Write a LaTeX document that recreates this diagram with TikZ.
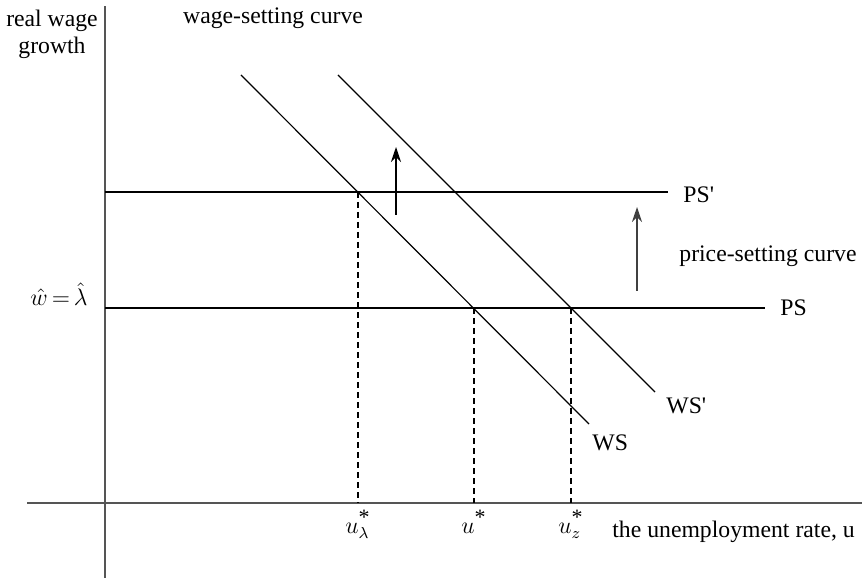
\documentclass[tikz,border=0pt]{standalone}
\usepackage{fontspec}
\setmainfont{Liberation Serif}
\usepackage{tikz}
\usetikzlibrary{arrows.meta,positioning,calc}
\definecolor{ink}{RGB}{0,0,0}
\definecolor{axisgray}{RGB}{85,85,85}
\newcommand{\ustar}{\mbox{\fontsize{11}{11}\selectfont *}}
\tikzset{
  axis/.style={draw=axisgray,line width=1.1bp},
  curve/.style={draw=ink,line width=0.6bp},
  guide/.style={draw=ink,line width=0.6bp,dash pattern=on 3bp off 2bp},
  shiftarr/.style={-{Stealth[length=7.5bp,width=5bp]},line width=0.7bp},
  lbl/.style={font=\fontsize{11.9}{14}\selectfont,inner sep=0pt,text=ink},
}

\begin{document}
\begin{tikzpicture}[x=0.5bp,y=-0.5bp]
  \useasboundingbox (0,0) rectangle (862,578);
  % axes
  \coordinate (o) at (105,503);
  \coordinate (ytop) at (105,6);
  \coordinate (ybot) at (105,578);
  \coordinate (xl) at (27,503);
  \coordinate (xr) at (862,503);
  \draw[axis] (ybot) -- (ytop);
  \draw[axis] (xl) -- (xr);
  % price-setting and wage-setting lines
  \coordinate (ps0) at (105,308);
  \coordinate (ps1) at (765,308);
  \coordinate (psp0) at (105,192);
  \coordinate (psp1) at (668,192);
  \coordinate (ws0) at (241,75);
  \coordinate (ws1) at (589,424);
  \coordinate (wsp0) at (338,75);
  \coordinate (wsp1) at (655,392);
  \draw[curve] (ps0) -- (ps1);
  \draw[curve] (psp0) -- (psp1);
  \draw[curve] (ws0) -- (ws1);
  \draw[curve] (wsp0) -- (wsp1);
  % equilibria, dropped to the axis
  \coordinate (eL) at (358,192);
  \coordinate (eU) at (474,308);
  \coordinate (eZ) at (571,308);
  \draw[guide] (eL) -- (eL |- o);
  \draw[guide] (eU) -- (eU |- o);
  \draw[guide] (eZ) -- (eZ |- o);
  % shifts
  \coordinate (a0) at (396,215);
  \coordinate (a1) at (396,147);
  \coordinate (b0) at (637,291);
  \coordinate (b1) at (637,207);
  \draw[shiftarr] (a0) -- (a1);
  \draw[shiftarr,black!75] (b0) -- (b1);
  % labels
  \node[lbl,align=center,anchor=base] (ylab) at (52,54) {real wage\\growth};
  \node[lbl,anchor=base] (wslab) at (273,24) {wage-setting curve};
  \node[lbl,anchor=base west] (what) at (30,306) {$\hat{w}\,{=}\,\hat{\lambda}$};
  \node[lbl,anchor=base west] (pspl) at (683,203) {PS\textquotesingle};
  \node[lbl,anchor=base west] (psl) at (780,316) {PS};
  \node[lbl,anchor=base west] (pslab) at (679,262) {price-setting curve};
  \node[lbl,anchor=base west] (wspl) at (666,414) {WS\textquotesingle};
  \node[lbl,anchor=base west] (wsl) at (592,450) {WS};
  \node[lbl,anchor=base] (uL) at (eL |- 0,533) {$u^{\ustar}_{\lambda}$};
  \node[lbl,anchor=base] (uU) at (eU |- 0,533) {$u^{\ustar}$};
  \node[lbl,anchor=base] (uZ) at (eZ |- 0,533) {$u^{\ustar}_{z}$};
  \node[lbl,anchor=base west] (xlab) at (612,537) {the unemployment rate, u};
\end{tikzpicture}
\end{document}
